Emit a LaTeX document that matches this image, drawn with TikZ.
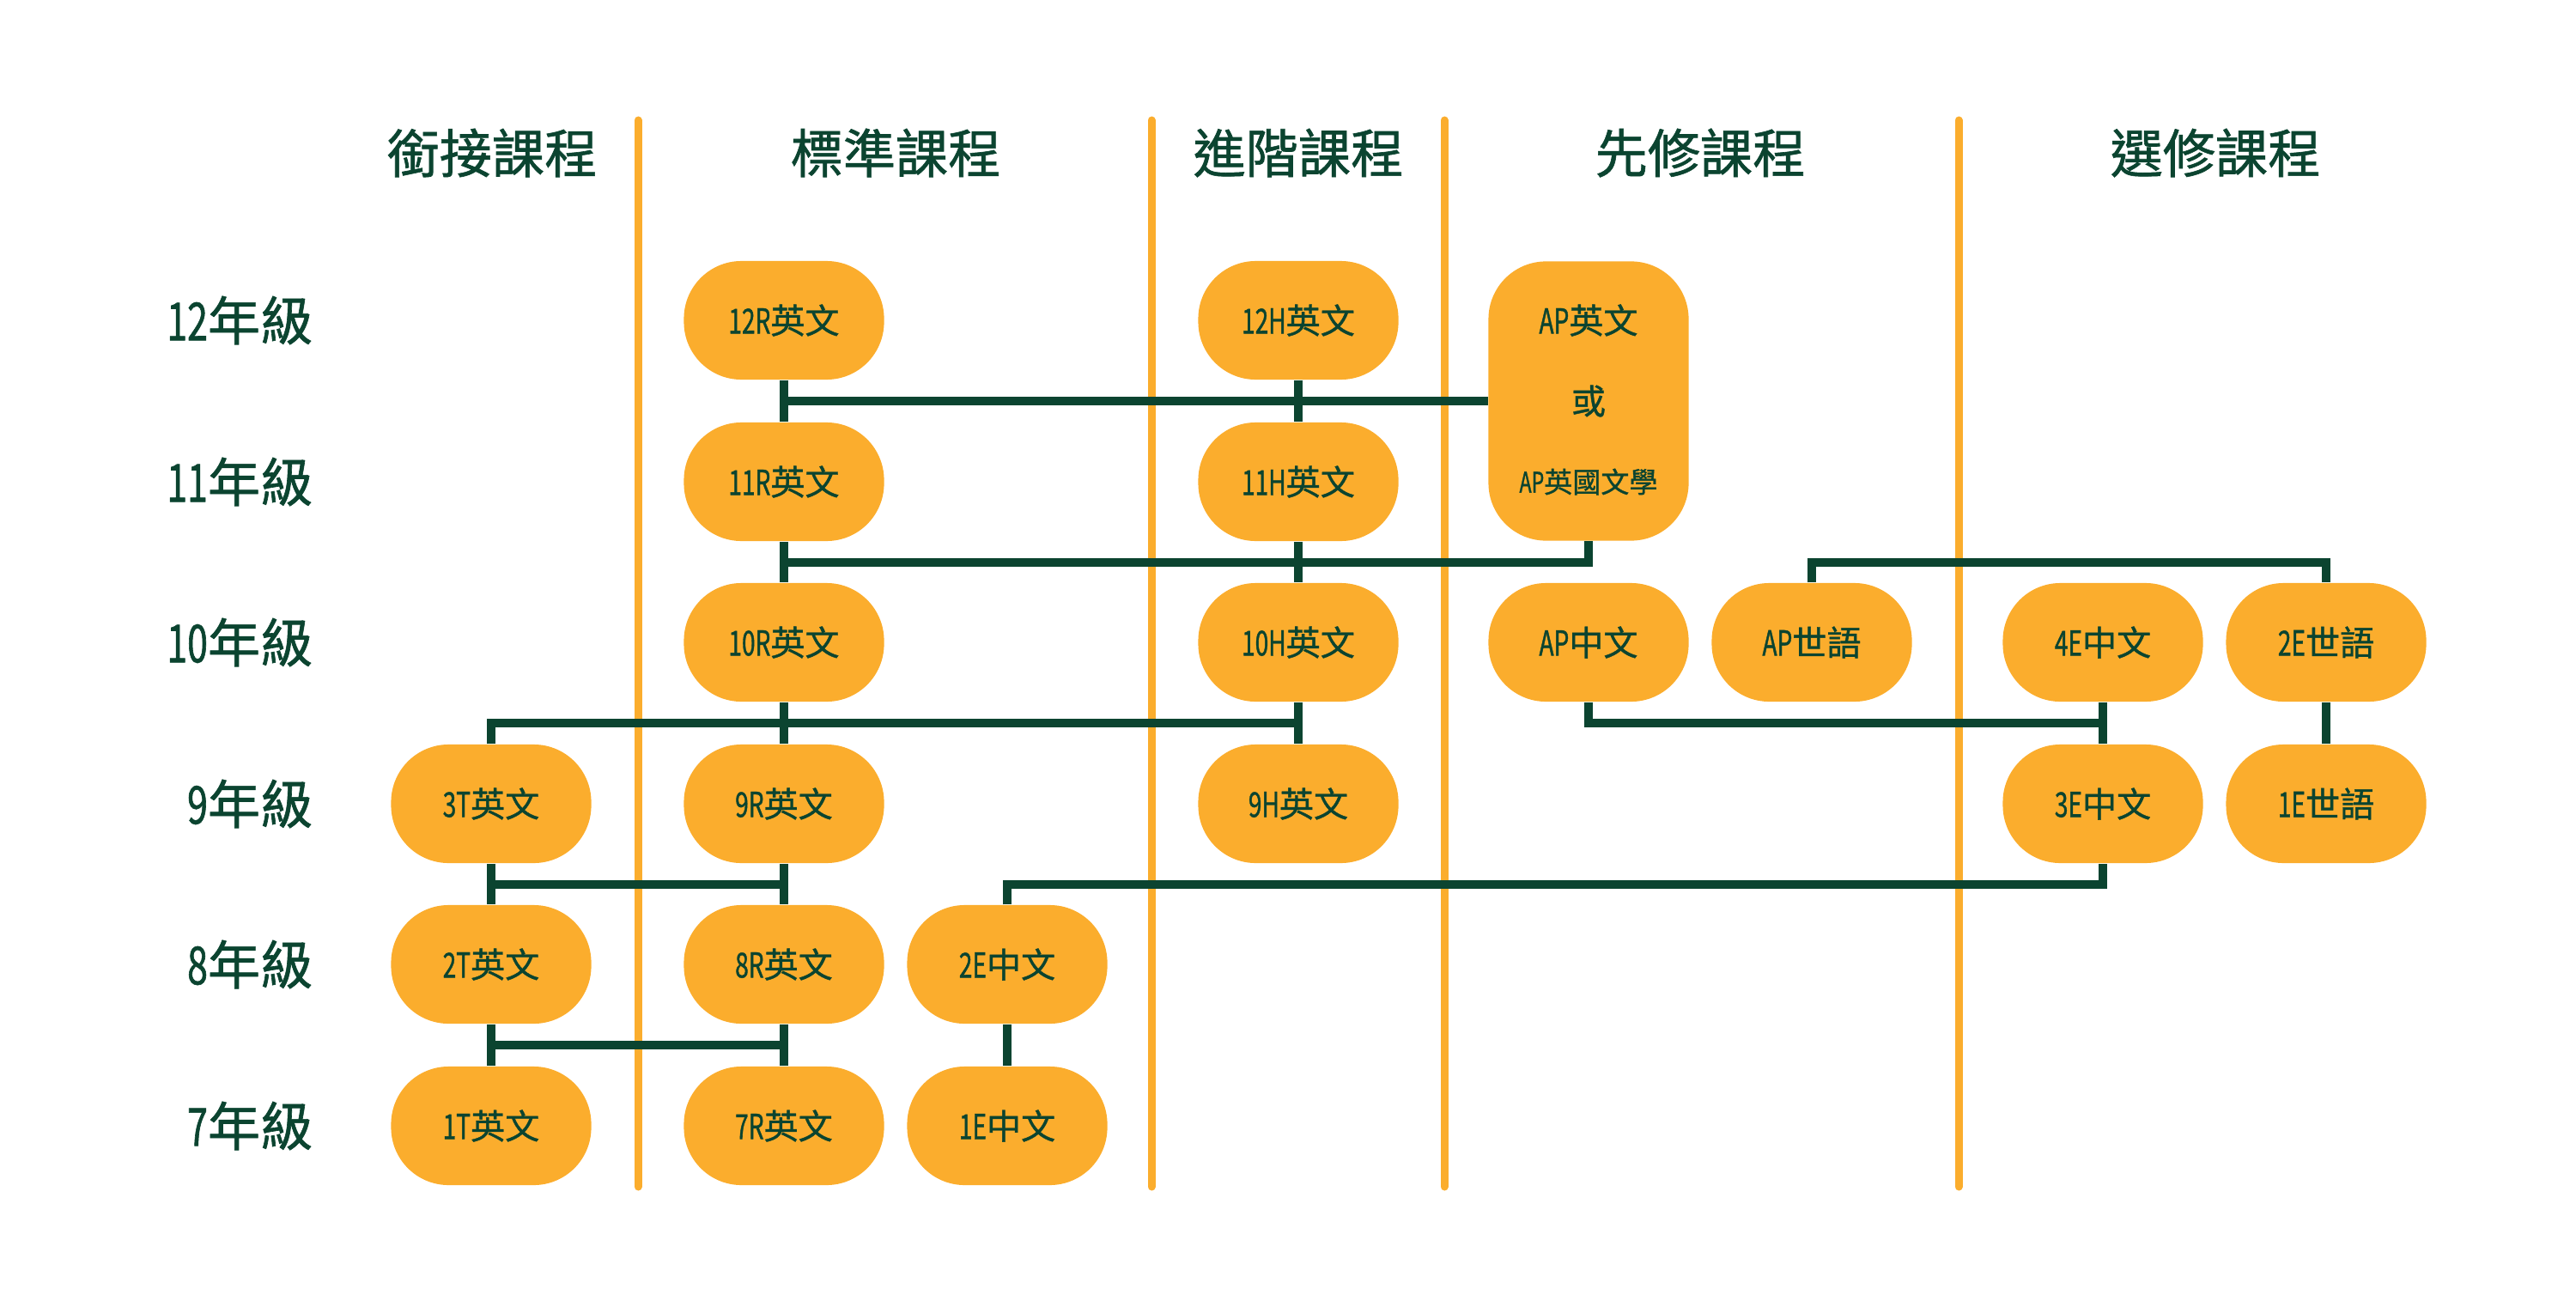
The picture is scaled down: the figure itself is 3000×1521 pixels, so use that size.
\documentclass[tikz,border=0pt]{standalone}
\usepackage{fontspec}
\setmainfont{Noto Sans CJK TC}[FakeBold=1]
\newfontfamily\narrowfont{Noto Sans CJK TC}[FakeBold=1, FakeStretch=0.7]
\newcommand\lat[1]{{\narrowfont #1}}
\usetikzlibrary{calc}
\definecolor{amber}{HTML}{FBAD2D}
\definecolor{pine}{HTML}{0B4430}

\begin{document}
\begin{tikzpicture}[x=0.01cm, y=-0.01cm,
    course/.style={fill=amber, rounded corners=0.67cm, minimum width=2.33cm,
      minimum height=1.38cm, inner sep=0pt, text=pine,
      font=\fontsize{11.4}{13}\selectfont},
    inside/.style={text=pine, inner sep=0pt, font=\fontsize{11.4}{13}\selectfont},
    link/.style={draw=pine, line width=0.1cm},
    divider/.style={draw=amber, line width=0.09cm, line cap=round},
    head/.style={text=pine, font=\fontsize{17.4}{20}\selectfont},
    grade/.style={head, anchor=east, inner sep=0pt}]
    \useasboundingbox (0,0) rectangle (3000,1521);

    % column dividers
    \foreach \x in {743,1341,1682,2281}
      \draw[divider] (\x,140) -- (\x,1382);

    % column heads
    \node[head] (hbridge) at (573,178) {銜接課程};
    \node[head] (hstd) at (1043,178) {標準課程};
    \node[head] (hhon) at (1512,178) {進階課程};
    \node[head] (hap) at (1980,178) {先修課程};
    \node[head] (helec) at (2580,178) {選修課程};

    % grade rows
    \node[grade] (g12) at (365,373) {\lat{12}年級};
    \node[grade] (g11) at (365,561) {\lat{11}年級};
    \node[grade] (g10) at (365,748) {\lat{10}年級};
    \node[grade] (g9) at (365,936) {\lat{9}年級};
    \node[grade] (g8) at (365,1123) {\lat{8}年級};
    \node[grade] (g7) at (365,1311) {\lat{7}年級};

    % bridge
    \node[course] (t9) at (572,936) {\lat{3T}英文};
    \node[course] (t8) at (572,1123) {\lat{2T}英文};
    \node[course] (t7) at (572,1311) {\lat{1T}英文};

    % standard
    \node[course] (r12) at (913,373) {\lat{12R}英文};
    \node[course] (r11) at (913,561) {\lat{11R}英文};
    \node[course] (r10) at (913,748) {\lat{10R}英文};
    \node[course] (r9) at (913,936) {\lat{9R}英文};
    \node[course] (r8) at (913,1123) {\lat{8R}英文};
    \node[course] (r7) at (913,1311) {\lat{7R}英文};
    \node[course] (ce2) at (1173,1123) {\lat{2E}中文};
    \node[course] (ce1) at (1173,1311) {\lat{1E}中文};

    % honors
    \node[course] (h12) at (1512,373) {\lat{12H}英文};
    \node[course] (h11) at (1512,561) {\lat{11H}英文};
    \node[course] (h10) at (1512,748) {\lat{10H}英文};
    \node[course] (h9) at (1512,936) {\lat{9H}英文};

    % advanced placement
    \node[course, minimum height=3.25cm] (ap) at (1850,467) {};
    \node[inside] (aplang) at (1850,373) {\lat{AP}英文};
    \node[inside] (apor) at (ap.center) {或};
    \node[inside, font=\fontsize{9.4}{11}\selectfont] (aplit) at (1850,561) {\lat{AP}英國文學};
    \node[course] (apc) at (1850,748) {\lat{AP}中文};
    \node[course] (apw) at (2110,748) {\lat{AP}世語};

    % electives
    \node[course] (c4) at (2449,748) {\lat{4E}中文};
    \node[course] (c3) at (2449,936) {\lat{3E}中文};
    \node[course] (w2) at (2709,748) {\lat{2E}世語};
    \node[course] (w1) at (2709,936) {\lat{1E}世語};

    % bus levels
    \coordinate (m1211) at ($(r12)!.5!(r11)$);
    \coordinate (m1110) at ($(r11)!.5!(r10)$);
    \coordinate (m109) at ($(r10)!.5!(r9)$);
    \coordinate (m98) at ($(r9)!.5!(r8)$);
    \coordinate (m87) at ($(r8)!.5!(r7)$);

    % connectors
    \draw[link] (r12) -- (r11);
    \draw[link] (r11) -- (r10);
    \draw[link] (r10) -- (r9);
    \draw[link] (r9) -- (r8);
    \draw[link] (r8) -- (r7);
    \draw[link] (h12) -- (h11);
    \draw[link] (h11) -- (h10);
    \draw[link] (h10) -- (h9);
    \draw[link] (t9) -- (t8);
    \draw[link] (t8) -- (t7);
    \draw[link] (ce2) -- (ce1);
    \draw[link] (c4) -- (c3);
    \draw[link] (w2) -- (w1);

    \draw[link] (m1211) -- (ap);
    \draw[link] (m1110) -| (ap.south);
    \draw[link] (t9) |- (h10 |- m109);
    \draw[link] (t9 |- m98) -- (m98);
    \draw[link] (t8 |- m87) -- (m87);
    \draw[link] (ce2) |- (c3 |- m98) -- (c3);
    \draw[link] (apw) |- (w2 |- m1110) -- (w2);
    \draw[link] (apc) |- (c4 |- m109);
  \end{tikzpicture}
\end{document}
